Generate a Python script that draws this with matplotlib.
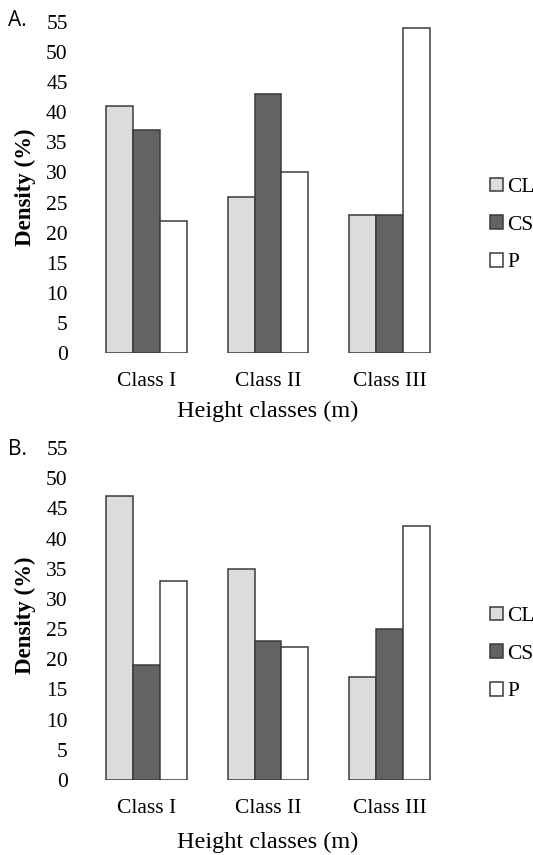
import numpy as np
import matplotlib
matplotlib.use("Agg")
import matplotlib.pyplot as plt

# height classes and series
classes = ["Class I", "Class II", "Class III"]
series = ["CL", "CS", "P"]
colors = ["#dcdcdc", "#636363", "#ffffff"]

# panel A values (%)
a_cl = [41, 26, 23]
a_cs = [37, 43, 23]
a_p = [22, 30, 54]

# panel B values (%)
b_cl = [47, 35, 17]
b_cs = [19, 23, 25]
b_p = [33, 22, 42]

W, H = 533, 855
fig = plt.figure(figsize=(W / 100, H / 100), dpi=100)
serif = "Liberation Serif"


def px_axes(left, top, right, bottom):
    return fig.add_axes([left / W, 1 - bottom / H, (right - left) / W, (bottom - top) / H])


def panel(ax, vals, tag, tag_y, legend_y, xlab_y, ylab_y):
    x = np.arange(len(classes)) + 1
    w = 0.2222
    for i, v in enumerate(vals):
        ax.bar(x + (i - 1) * w, v, w, color=colors[i], edgecolor="#3a3a3a",
               linewidth=1.1, label=series[i])
    ax.set_xlim(0.5, 3.5)
    ax.set_ylim(0, 55)
    ax.set_yticks(range(0, 56, 5))
    ax.set_xticks(x)
    ax.set_xticklabels(classes, family=serif, fontsize=15.5)
    for t in ax.get_yticklabels():
        t.set_family(serif)
        t.set_fontsize(15.5)
    ax.tick_params(length=0)
    ax.tick_params(axis="y", pad=13)
    ax.tick_params(axis="x", pad=14)
    for s in ax.spines.values():
        s.set_visible(False)
    fig.text(268 / W, 1 - xlab_y / H, "Height classes (m)", family=serif,
             fontsize=17.5, ha="center", va="center")
    fig.text(25 / W, 1 - ylab_y / H, "Density (%)", family=serif, fontsize=16.5,
             fontweight="bold", rotation=90, ha="center", va="center")
    fig.text(8 / W, 1 - tag_y / H, tag, family="Open Sans", fontsize=15,
             ha="left", va="center")
    ax.legend(loc="center left", bbox_to_anchor=(490 / W, 1 - legend_y / H),
              bbox_transform=fig.transFigure, frameon=False, borderpad=0,
              borderaxespad=0, handlelength=0.6, handleheight=0.6,
              handletextpad=0.2, labelspacing=0.85,
              prop={"family": serif, "size": 15.5})


ax1 = px_axes(85.75, 22, 450.25, 353)
panel(ax1, [a_cl, a_cs, a_p], "A.", 21, 225, 411, 187)

ax2 = px_axes(85.75, 448, 450.25, 780)
panel(ax2, [b_cl, b_cs, b_p], "B.", 449, 654, 842, 615)

fig.savefig("out.png", dpi=100)
